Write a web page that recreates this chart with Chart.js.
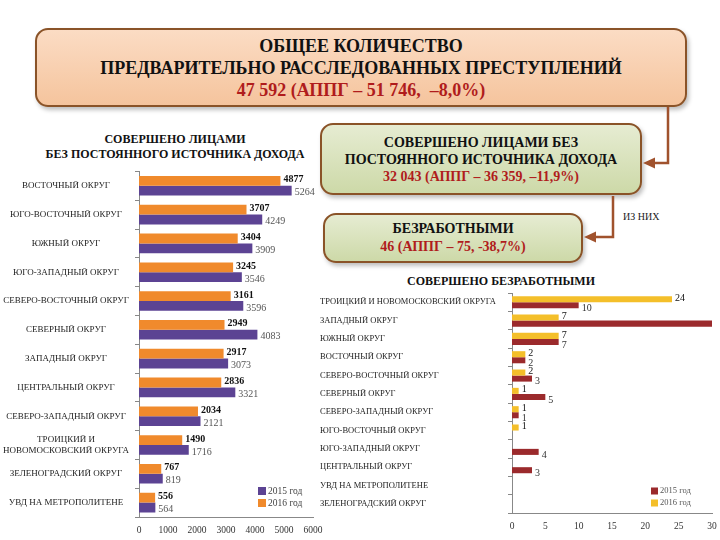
<!DOCTYPE html>
<html lang="ru">
<head>
<meta charset="utf-8">
<script src="https://cdn.jsdelivr.net/npm/chart.js@4.4.0/dist/chart.umd.min.js"></script>
<style>
  html, body { margin: 0; padding: 0; background: #fff; }
  #page { position: relative; width: 720px; height: 540px; overflow: hidden; font-family: "Liberation Serif", "DejaVu Serif", serif; }
  .box { position: absolute; box-sizing: border-box; border: 2.5px solid #8a5328; border-radius: 13px; text-align: center; font-weight: bold; color: #111; box-shadow: 2px 3px 4px rgba(0,0,0,0.25); }
  .red { color: #b01c1c; }
  #topBox { left: 35px; top: 28px; width: 652px; height: 79px; background: linear-gradient(#fbdcc4, #f5c49d); font-size: 18px; line-height: 22px; padding-top: 5px; }
  #greenBox1 { left: 320px; top: 123px; width: 322px; height: 72px; background: linear-gradient(#e6ecd2, #cdd9a8); font-size: 14px; line-height: 17px; padding-top: 9px; }
  #greenBox2 { left: 323px; top: 213px; width: 260px; height: 50px; background: linear-gradient(#e6ecd2, #cdd9a8); font-size: 14px; line-height: 18px; padding-top: 5px; }
  .title { position: absolute; text-align: center; font-weight: bold; font-size: 12px; line-height: 15px; color: #111; }
  #leftTitle { left: 0; top: 132px; width: 350px; }
  #rightTitle { left: 400px; top: 274px; width: 202px; }
  #izNih { position: absolute; left: 623px; top: 211px; font-size: 10px; color: #222; }
  svg { position: absolute; left: 0; top: 0; }
  canvas { position: absolute; }
  #leftChart { left: 0; top: 160px; }
  #rightChart { left: 320px; top: 285px; }
</style>
</head>
<body>
<div id="page">
  <div class="box" id="topBox">ОБЩЕЕ КОЛИЧЕСТВО<br>ПРЕДВАРИТЕЛЬНО РАССЛЕДОВАННЫХ ПРЕСТУПЛЕНИЙ<br><span class="red">47 592 (АППГ – 51 746,&nbsp; –8,0%)</span></div>
  <div class="box" id="greenBox1">СОВЕРШЕНО ЛИЦАМИ БЕЗ<br>ПОСТОЯННОГО ИСТОЧНИКА ДОХОДА<br><span class="red">32 043 (АППГ – 36 359, –11,9%)</span></div>
  <div class="box" id="greenBox2">БЕЗРАБОТНЫМИ<br><span class="red">46 (АППГ – 75, -38,7%)</span></div>
  <div class="title" id="leftTitle">СОВЕРШЕНО ЛИЦАМИ<br>БЕЗ ПОСТОЯННОГО ИСТОЧНИКА ДОХОДА</div>
  <div class="title" id="rightTitle">СОВЕРШЕНО БЕЗРАБОТНЫМИ</div>
  <div id="izNih">ИЗ НИХ</div>
  <svg width="720" height="540">
    <polyline points="668,107 668,163 652,163" fill="none" stroke="#a0522d" stroke-width="2.5"/>
    <polygon points="643,163 655,157.5 655,168.5" fill="#a0522d"/>
    <polyline points="613,196 613,237 593,237" fill="none" stroke="#a0522d" stroke-width="2.5"/>
    <polygon points="584,237 596,231.5 596,242.5" fill="#a0522d"/>
  </svg>
  <canvas id="leftChart" width="330" height="380"></canvas>
  <canvas id="rightChart" width="400" height="255"></canvas>
</div>
<script>
// left chart: crimes by persons without permanent income
const leftCategories = [
  'ВОСТОЧНЫЙ ОКРУГ', 'ЮГО-ВОСТОЧНЫЙ ОКРУГ', 'ЮЖНЫЙ ОКРУГ', 'ЮГО-ЗАПАДНЫЙ ОКРУГ',
  'СЕВЕРО-ВОСТОЧНЫЙ ОКРУГ', 'СЕВЕРНЫЙ ОКРУГ', 'ЗАПАДНЫЙ ОКРУГ', 'ЦЕНТРАЛЬНЫЙ ОКРУГ',
  'СЕВЕРО-ЗАПАДНЫЙ ОКРУГ', ['ТРОИЦКИЙ И', 'НОВОМОСКОВСКИЙ ОКРУГА'], 'ЗЕЛЕНОГРАДСКИЙ ОКРУГ',
  'УВД НА МЕТРОПОЛИТЕНЕ'
];
const left2016 = [4877, 3707, 3404, 3245, 3161, 2949, 2917, 2836, 2034, 1490, 767, 556];
const left2015 = [5264, 4249, 3909, 3546, 3596, 4083, 3073, 3321, 2121, 1716, 819, 564];
const leftTicks = [0, 1000, 2000, 3000, 4000, 5000, 6000];

// right chart: crimes by unemployed
const rightCategories = [
  'ТРОИЦКИЙ И НОВОМОСКОВСКИЙ ОКРУГА', 'ЗАПАДНЫЙ ОКРУГ', 'ЮЖНЫЙ ОКРУГ', 'ВОСТОЧНЫЙ ОКРУГ',
  'СЕВЕРО-ВОСТОЧНЫЙ ОКРУГ', 'СЕВЕРНЫЙ ОКРУГ', 'СЕВЕРО-ЗАПАДНЫЙ ОКРУГ', 'ЮГО-ВОСТОЧНЫЙ ОКРУГ',
  'ЮГО-ЗАПАДНЫЙ ОКРУГ', 'ЦЕНТРАЛЬНЫЙ ОКРУГ', 'УВД НА МЕТРОПОЛИТЕНЕ', 'ЗЕЛЕНОГРАДСКИЙ ОКРУГ'
];
const right2016 = [24, 7, 7, 2, 2, 1, 1, 1, 0, 0, 0, 0];
const right2015 = [10, 40, 7, 2, 3, 5, 1, 0, 4, 3, 0, 0];
const rightTicks = [0, 5, 10, 15, 20, 25, 30];

const serif = '"Liberation Serif", "DejaVu Serif", serif';

const valueLabels = {
  id: 'valueLabels',
  afterDatasetsDraw(chart, args, opts) {
    const { ctx, chartArea } = chart;
    ctx.save();
    chart.data.datasets.forEach((ds, i) => {
      const st = opts.styles[i];
      ctx.font = st.font;
      ctx.fillStyle = st.color;
      ctx.textAlign = 'left';
      ctx.textBaseline = 'middle';
      chart.getDatasetMeta(i).data.forEach((bar, j) => {
        const v = ds.data[j];
        if (!v || bar.x > chartArea.right) return;
        ctx.fillText(String(v), bar.x + 3, bar.y + st.dy);
      });
    });
    ctx.restore();
  }
};

const cornerLegend = {
  id: 'cornerLegend',
  afterDraw(chart, args, opts) {
    const { ctx, chartArea } = chart;
    ctx.save();
    chart.data.datasets.slice().reverse().forEach((ds, k) => {
      const x = chartArea.right - opts.right;
      const y = chartArea.bottom - opts.bottom + k * opts.gap;
      ctx.fillStyle = ds.backgroundColor;
      ctx.fillRect(x, y - opts.box / 2, opts.box, opts.box);
      ctx.fillStyle = opts.color;
      ctx.font = opts.font;
      ctx.textAlign = 'left';
      ctx.textBaseline = 'middle';
      ctx.fillText(ds.label, x + opts.box + 2, y);
    });
    ctx.restore();
  }
};

Chart.defaults.font.family = serif;

new Chart(document.getElementById('leftChart'), {
  type: 'bar',
  data: {
    labels: leftCategories,
    datasets: [
      { label: '2016 год', data: left2016, backgroundColor: '#f08a2c' },
      { label: '2015 год', data: left2015, backgroundColor: '#5c4393' }
    ]
  },
  options: {
    indexAxis: 'y',
    responsive: false,
    animation: false,
    datasets: { bar: { categoryPercentage: 0.68, barPercentage: 1 } },
    layout: { padding: { top: 3, right: 17, left: 0, bottom: 5 } },
    plugins: {
      legend: { display: false },
      tooltip: { enabled: false },
      valueLabels: {
        styles: [
          { font: 'bold 10px ' + serif, color: '#111', dy: -1 },
          { font: '10px ' + serif, color: '#555', dy: 2 }
        ]
      },
      cornerLegend: { right: 55, bottom: 26, gap: 12, box: 8, font: '9.5px ' + serif, color: '#444' }
    },
    scales: {
      x: {
        min: 0, max: 6000,
        afterBuildTicks: (s) => { s.ticks = leftTicks.map(v => ({ value: v })); },
        ticks: { font: { size: 9.5 }, color: '#333', padding: 0, callback: (v) => String(v) },
        grid: { display: false },
        border: { display: true, color: '#888' },
        afterFit: (s) => { s.height = 18; }
      },
      y: {
        grid: { drawOnChartArea: false, tickLength: 4, color: '#888' },
        border: { color: '#888' },
        ticks: { crossAlign: 'center', font: { size: 9 }, color: '#222', padding: 6 },
        afterFit: (s) => { s.width = 139; }
      }
    }
  },
  plugins: [valueLabels, cornerLegend]
});

new Chart(document.getElementById('rightChart'), {
  type: 'bar',
  data: {
    labels: rightCategories,
    datasets: [
      { label: '2016 год', data: right2016, backgroundColor: '#f4bf2a' },
      { label: '2015 год', data: right2015, backgroundColor: '#9b2a2c' }
    ]
  },
  options: {
    indexAxis: 'y',
    responsive: false,
    animation: false,
    datasets: { bar: { categoryPercentage: 0.66, barPercentage: 1 } },
    layout: { padding: { top: 7, right: 8, left: 0, bottom: 0 } },
    plugins: {
      legend: { display: false },
      tooltip: { enabled: false },
      valueLabels: {
        styles: [
          { font: '10px ' + serif, color: '#111', dy: -1 },
          { font: '10px ' + serif, color: '#333', dy: 3 }
        ]
      },
      cornerLegend: { right: 61, bottom: 22, gap: 12, box: 7, font: '8.5px ' + serif, color: '#555' }
    },
    scales: {
      x: {
        min: 0, max: 30,
        afterBuildTicks: (s) => { s.ticks = rightTicks.map(v => ({ value: v })); },
        ticks: { font: { size: 9.5 }, color: '#333', padding: 0, callback: (v) => String(v) },
        grid: { display: false },
        border: { display: true, color: '#888' },
        afterFit: (s) => { s.height = 27; }
      },
      y: {
        grid: { drawOnChartArea: false, tickLength: 4, color: '#888' },
        border: { color: '#888' },
        ticks: { crossAlign: 'far', font: { size: 8.5 }, color: '#222' },
        afterFit: (s) => { s.width = 192; }
      }
    }
  },
  plugins: [valueLabels, cornerLegend]
});
</script>
</body>
</html>
